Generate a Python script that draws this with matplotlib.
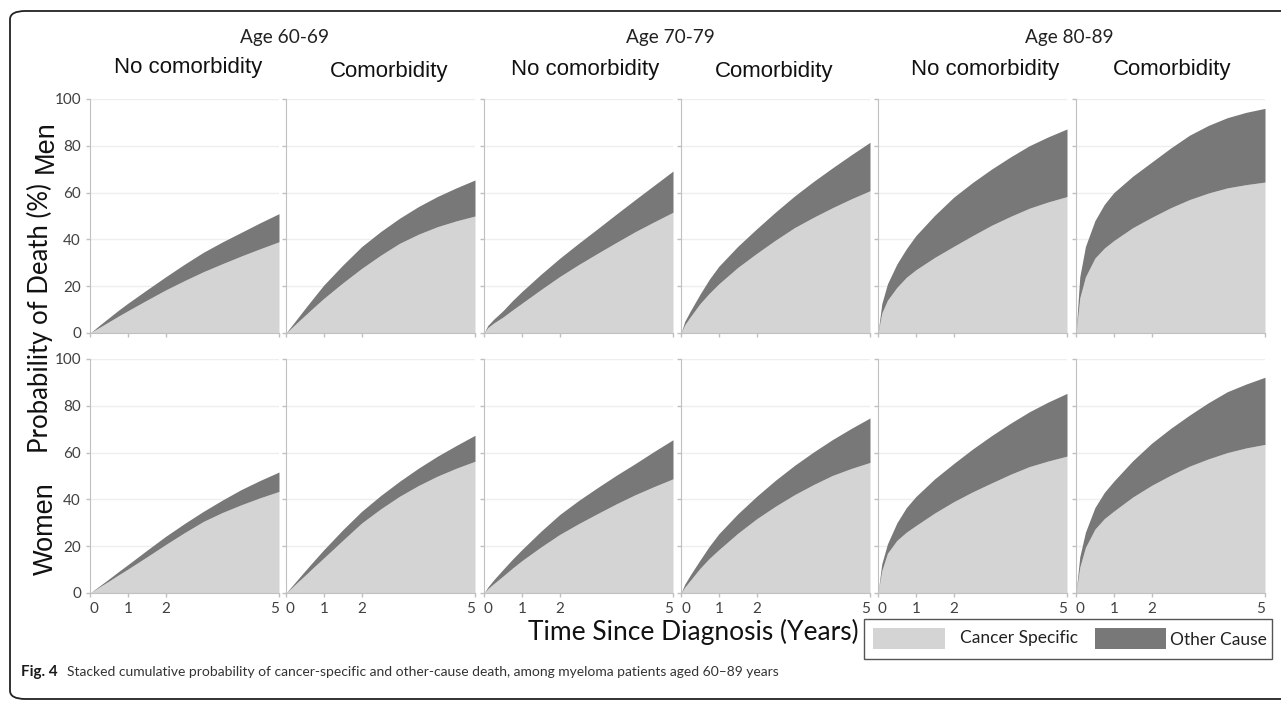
import matplotlib
matplotlib.use("Agg")
import matplotlib.pyplot as plt
import numpy as np
from matplotlib.patches import Rectangle, FancyBboxPatch

# tid i år
tid = [0, 0.1, 0.25, 0.5, 0.75, 1, 1.5, 2, 2.5, 3, 3.5, 4, 4.5, 5]

aldrar = ["Age 60-69", "Age 70-79", "Age 80-89"]
grupper = ["No comorbidity", "Comorbidity"]
kon = ["Men", "Women"]
xticks = [0, 1, 2, 5]
yticks = [0, 20, 40, 60, 80, 100]

# män: totalt (cancer + annan orsak) och cancerspecifik, en rad per panel
man_total = [
    [0, 1.3, 3.3, 6.5, 9.7, 12.7, 18.4, 24, 29.4, 34.5, 38.9, 43, 47.1, 51],
    [0, 2.1, 5.2, 10.4, 15.5, 20.5, 29, 36.9, 43.3, 49, 54, 58.3, 62, 65.4],
    [0, 3.2, 5.8, 9.5, 13.8, 17.7, 25, 31.9, 38.3, 44.5, 50.8, 57, 63.1, 69.2],
    [0, 5, 9.5, 16.5, 23, 28.5, 37, 44.5, 51.7, 58.5, 64.7, 70.5, 76.1, 81.5],
    [0, 12.5, 21, 29.5, 36, 41.6, 50.3, 58, 64.3, 70, 75.2, 80, 83.8, 87.2],
    [0, 24, 37, 48, 55, 60, 67, 73, 79, 84.5, 88.7, 92, 94.3, 96],
]
man_cancer = [
    [0, 1, 2.4, 4.8, 7.2, 9.5, 14, 18.4, 22.4, 26.2, 29.6, 32.9, 36, 39],
    [0, 1.5, 3.8, 7.5, 11.2, 14.8, 21.4, 27.6, 33.2, 38.3, 42.2, 45.4, 47.9, 50],
    [0, 2.3, 4.2, 6.8, 9.8, 12.7, 18.5, 24.1, 29.2, 34, 38.7, 43.3, 47.5, 51.6],
    [0, 3.5, 7, 12.5, 17, 21, 28, 34, 39.7, 45, 49.4, 53.5, 57.3, 60.8],
    [0, 8.5, 14, 19.5, 23.8, 27, 32.3, 37, 41.6, 46, 49.8, 53.3, 56, 58.3],
    [0, 15, 24, 32, 36.3, 39.5, 45, 49.4, 53.5, 57, 59.8, 62, 63.4, 64.5],
]
# kvinnor
kvinna_total = [
    [0, 1.2, 3, 6, 9.1, 12.1, 18.2, 24.2, 29.7, 34.9, 39.7, 44.2, 48.1, 51.7],
    [0, 1.9, 4.7, 9.4, 14, 18.5, 27, 34.9, 41.6, 47.7, 53.3, 58.4, 63, 67.4],
    [0, 2.5, 5.5, 10, 14.4, 18.5, 26.3, 33.5, 39.5, 45, 50.3, 55.3, 60.5, 65.5],
    [0, 3.8, 7.8, 14, 20, 25.3, 33.8, 41.3, 48.2, 54.5, 60.2, 65.5, 70.3, 74.8],
    [0, 12.5, 21, 30, 36.5, 41.2, 48.8, 55.3, 61.5, 67.2, 72.5, 77.4, 81.6, 85.3],
    [0, 15.5, 26, 36.5, 43, 47.8, 56.5, 64, 70.3, 76, 81.3, 86, 89.3, 92.2],
]
kvinna_cancer = [
    [0, 1, 2.6, 5.1, 7.7, 10.2, 15.4, 20.7, 25.8, 30.6, 34.4, 37.7, 40.7, 43.4],
    [0, 1.5, 3.8, 7.5, 11.3, 15, 22.5, 29.9, 35.9, 41.3, 45.9, 49.9, 53.3, 56.3],
    [0, 1.8, 3.9, 7.2, 10.6, 13.8, 19.6, 25, 29.6, 33.9, 38.1, 42, 45.5, 48.8],
    [0, 2.5, 5.5, 10.5, 14.8, 18.5, 25.5, 31.7, 37.1, 42, 46.3, 50.2, 53.2, 55.8],
    [0, 9.5, 17, 22.5, 26, 28.8, 34.2, 39, 43.2, 47, 50.7, 54, 56.4, 58.5],
    [0, 11, 19.5, 27.3, 31.8, 35, 41, 46, 50.3, 54.2, 57.3, 60, 62, 63.5],
]

ljus = "#d4d4d4"
mork = "#787878"
calibri = ["Lato", "DejaVu Sans"]
arial = ["Liberation Sans", "DejaVu Sans"]

W, H = 1281, 703
fig = plt.figure(figsize=(W / 100, H / 100), dpi=100)

vanster = [90, 286, 484, 681, 878, 1076]
bredd = 189
rad_botten = [333, 593]
hojd = 234

for r, (tot, can) in enumerate([(man_total, man_cancer), (kvinna_total, kvinna_cancer)]):
    for c in range(6):
        ax = fig.add_axes([vanster[c] / W, 1 - rad_botten[r] / H, bredd / W, hojd / H])
        t = np.array(tid)
        ax.fill_between(t, 0, can[c], color=ljus, lw=0)
        ax.fill_between(t, can[c], tot[c], color=mork, lw=0)
        ax.set_xlim(0, 5)
        ax.set_ylim(0, 100)
        ax.set_xticks(xticks)
        ax.set_yticks(yticks)
        ax.grid(axis="y", color="#eeeeee", lw=1)
        ax.set_axisbelow(True)
        for s in ["top", "right"]:
            ax.spines[s].set_visible(False)
        for s in ["left", "bottom"]:
            ax.spines[s].set_color("#c0c0c0")
        ax.tick_params(colors="#c0c0c0", length=3, width=1, labelcolor="#404040")
        if c == 0:
            ax.set_yticklabels([str(v) for v in yticks], fontsize=11, family=calibri)
        else:
            ax.set_yticklabels([])
        if r == 1:
            etiketter = ax.set_xticklabels([str(v) for v in xticks], fontsize=11, family=calibri)
            etiketter[0].set_ha("left")
            etiketter[-1].set_ha("right")
        else:
            ax.set_xticklabels([])

# rubriker
for i, a in enumerate(aldrar):
    fig.text([285, 670, 1069][i] / W, 1 - 37 / H, a, ha="center", va="center",
             fontsize=13.7, family=calibri, color="#222222")
for c in range(6):
    fig.text([188, 389, 585, 774, 985, 1172][c] / W, 1 - [67, 72, 70, 72, 70, 70][c] / H,
             grupper[c % 2], ha="center", va="center", fontsize=16, family=arial, color="#111111")

fig.text(40 / W, 1 - 318 / H, "Probability of Death (%)", rotation=90, ha="center", va="center",
         fontsize=18.5, family=calibri, color="#111111")
fig.text(46 / W, 1 - 147 / H, kon[0], rotation=90, ha="center", va="center",
         fontsize=19.5, family=arial, color="#111111")
fig.text(46 / W, 1 - 529 / H, kon[1], rotation=90, ha="center", va="center",
         fontsize=19.5, family=arial, color="#111111")
fig.text(693 / W, 1 - 632 / H, "Time Since Diagnosis (Years)", ha="center", va="center",
         fontsize=19, family=calibri, color="#111111")

# legend
fig.add_artist(Rectangle((864 / W, 1 - 659 / H), 408 / W, 40 / H, transform=fig.transFigure,
                         fill=False, ec="#555555", lw=1))
fig.add_artist(Rectangle((873 / W, 1 - 649 / H), 72 / W, 21 / H, transform=fig.transFigure,
                         fc=ljus, ec="none"))
fig.add_artist(Rectangle((1095 / W, 1 - 649 / H), 71 / W, 21 / H, transform=fig.transFigure,
                         fc=mork, ec="none"))
fig.text(960 / W, 1 - 638 / H, "Cancer Specific", ha="left", va="center", fontsize=12.5,
         family=calibri, color="#222222")
fig.text(1170 / W, 1 - 640 / H, "Other Cause", ha="left", va="center", fontsize=12.5,
         family=calibri, color="#222222")

# ram och figurtext
fig.add_artist(FancyBboxPatch((10 / W, 4 / H), 1300 / W, 688 / H, transform=fig.transFigure,
                              boxstyle="round,pad=0,rounding_size=0.012", fill=False,
                              ec="#222222", lw=1.3))
fig.text(21 / W, 1 - 672 / H, "Fig. 4", ha="left", va="center", fontsize=11,
         family=calibri, weight="bold", color="#1a1a1a")
fig.text(67 / W, 1 - 672 / H,
         "Stacked cumulative probability of cancer-specific and other-cause death, among myeloma patients aged 60\u201389 years",
         ha="left", va="center", fontsize=10, family=calibri, color="#333333")

fig.savefig("out.png", dpi=100)
